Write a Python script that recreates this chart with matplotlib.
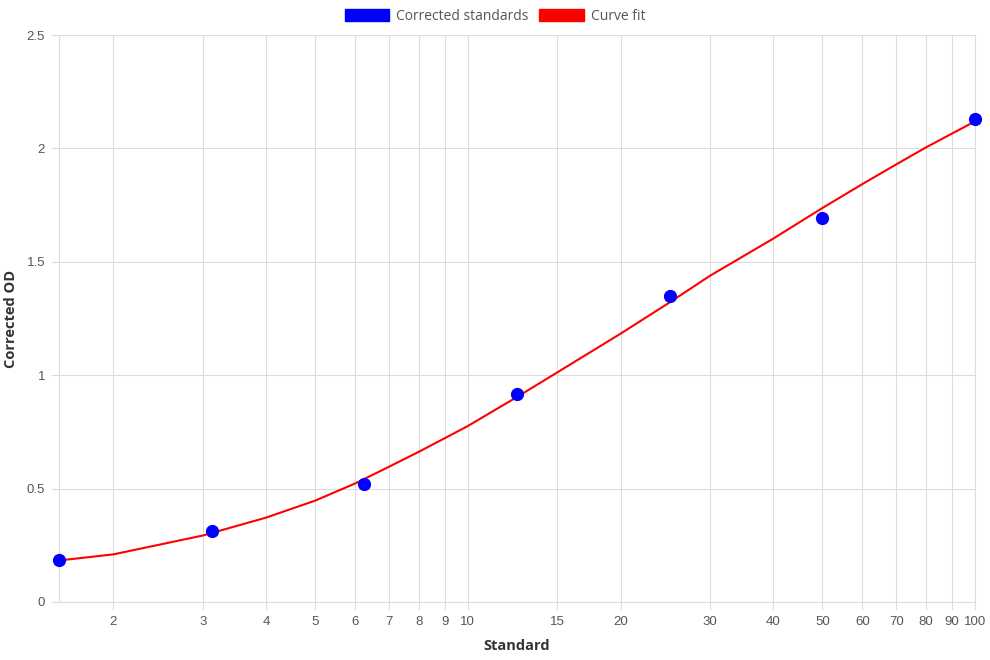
import matplotlib
matplotlib.use("Agg")
import matplotlib.pyplot as plt
from matplotlib.patches import Patch
from matplotlib.ticker import FixedLocator, FixedFormatter, NullLocator

# Data
std_x = [1.5625, 3.125, 6.25, 12.5, 25, 50, 100]
std_y = [0.183, 0.313, 0.52, 0.916, 1.351, 1.692, 2.128]

fit_x = [1.5625, 2, 3, 4, 5, 6, 7, 8, 9, 10, 12.5, 15, 20, 25, 30, 40, 50, 60, 70, 80, 90, 100]
fit_y = [0.183, 0.210, 0.293, 0.372, 0.447, 0.523, 0.597, 0.662, 0.722, 0.776, 0.904,
         1.012, 1.183, 1.321, 1.438, 1.602, 1.737, 1.843, 1.930, 2.004, 2.065, 2.119]

xticks = [2, 3, 4, 5, 6, 7, 8, 9, 10, 15, 20, 30, 40, 50, 60, 70, 80, 90, 100]
yticks = [0, 0.5, 1, 1.5, 2, 2.5]
ytick_labels = ["0", "0.5", "1", "1.5", "2", "2.5"]

W, H = 990, 660
fig = plt.figure(figsize=(W / 100, H / 100), dpi=100)
ax = fig.add_axes([59 / W, 1 - 602 / H, (975 - 59) / W, (602 - 35) / H])

grid_c = "#dddddd"
ax.set_xscale("log")
ax.set_xlim(1.5625, 100)
ax.set_ylim(0, 2.5)

ax.plot(fit_x, fit_y, color="#ff0000", lw=1.5, zorder=3, solid_joinstyle="round")
ax.plot(std_x, std_y, "o", color="#0000ff", ms=8.5, zorder=4, clip_on=False)

ax.xaxis.set_major_locator(FixedLocator(xticks))
ax.xaxis.set_major_formatter(FixedFormatter([str(v) for v in xticks]))
ax.xaxis.set_minor_locator(NullLocator())
ax.yaxis.set_major_locator(FixedLocator(yticks))
ax.yaxis.set_major_formatter(FixedFormatter(ytick_labels))

ax.grid(True, color=grid_c, lw=0.8, zorder=0)
ax.set_axisbelow(True)
for s in ax.spines.values():
    s.set_color(grid_c)
    s.set_linewidth(0.8)

ax.tick_params(axis="both", colors=grid_c, labelcolor="#555555", labelsize=9.5,
               length=6, width=0.8)
for lab in ax.get_xticklabels() + ax.get_yticklabels():
    lab.set_family("Liberation Sans")
ax.tick_params(axis="x", pad=4)
ax.tick_params(axis="y", pad=4)

ax.set_xlabel("Standard", fontsize=10.5, fontweight="bold", color="#333333",
              family="Open Sans", labelpad=8)
ax.set_ylabel("Corrected OD", fontsize=10.5, fontweight="bold", color="#333333",
              family="Open Sans", labelpad=6)

handles = [Patch(facecolor="#0000ff", edgecolor="#0000ff", label="Corrected standards"),
           Patch(facecolor="#ff0000", edgecolor="#ff0000", label="Curve fit")]
leg = fig.legend(handles=handles, loc="center", bbox_to_anchor=(0.5, 1 - 16 / H),
                 ncol=2, frameon=False, handlelength=3.2, handleheight=1.0,
                 handletextpad=0.5, columnspacing=0.8,
                 prop={"family": "Open Sans", "size": 10})
for t in leg.get_texts():
    t.set_color("#555555")

fig.savefig("out.png", dpi=100)
